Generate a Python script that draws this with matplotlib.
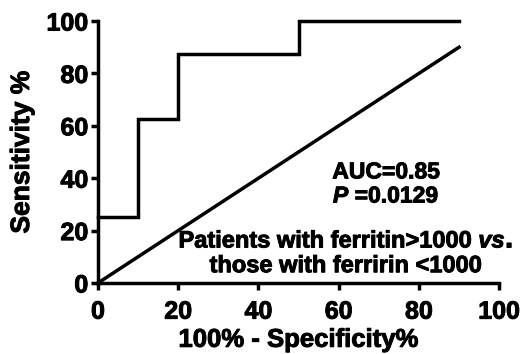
import matplotlib
matplotlib.use('Agg')
import matplotlib.pyplot as plt
import matplotlib.patheffects as pe

# ROC curve (step) and reference line
fpr = [0, 10, 10, 20, 20, 50, 50, 90]
tpr = [25, 25, 62.5, 62.5, 87.5, 87.5, 100, 100]
ref_x = [0, 90]
ref_y = [0, 90]

ticks = [0, 20, 40, 60, 80, 100]

plt.rcParams['font.family'] = 'Liberation Sans'
plt.rcParams['font.weight'] = 'bold'
plt.rcParams['mathtext.fontset'] = 'custom'
plt.rcParams['mathtext.it'] = 'Liberation Sans:bold:italic'

# slightly heavier text, like the original
heavy = [pe.withStroke(linewidth=0.7, foreground='black')]

fig = plt.figure(figsize=(5.21, 3.54), dpi=100)
ax = fig.add_axes([0.188, 0.2006, 0.770, 0.740])

ax.plot(fpr, tpr, color='black', lw=2.5, solid_joinstyle='miter', clip_on=False)
ax.plot(ref_x, ref_y, color='black', lw=2.5, clip_on=False)

ax.set_xlim(0, 100)
ax.set_ylim(0, 100)
ax.set_xticks(ticks)
ax.set_yticks(ticks)
ax.tick_params(direction='out', length=5, width=2.5, labelsize=18)
ax.tick_params(axis='x', pad=7)
ax.tick_params(axis='y', pad=2)
for lab in ax.get_xticklabels() + ax.get_yticklabels():
    lab.set_fontweight('bold')
    lab.set_path_effects(heavy)

for s in ['top', 'right']:
    ax.spines[s].set_visible(False)
for s in ['left', 'bottom']:
    ax.spines[s].set_linewidth(2.5)

ax.set_xlabel('100% - Specificity%', fontsize=18.5, fontweight='bold', labelpad=3,
              path_effects=heavy)
ax.set_ylabel('Sensitivity %', fontsize=19, fontweight='bold', labelpad=9,
              path_effects=heavy)

ax.text(71.8, 42.4, 'AUC=0.85', ha='center', va='center', fontsize=16.5,
        fontweight='bold', path_effects=heavy)
ax.text(71.8, 33.2, r'$\it{P}$ =0.0129', ha='center', va='center', fontsize=16.5,
        fontweight='bold', path_effects=heavy)
ax.text(61.8, 16, r'Patients with ferritin>1000 $\it{vs.}$', ha='center', va='center',
        fontsize=17, fontweight='bold', path_effects=heavy)
ax.text(61.8, 6.6, 'those with ferririn <1000', ha='center', va='center', fontsize=17,
        fontweight='bold', path_effects=heavy)

fig.savefig('out.png', dpi=100)
